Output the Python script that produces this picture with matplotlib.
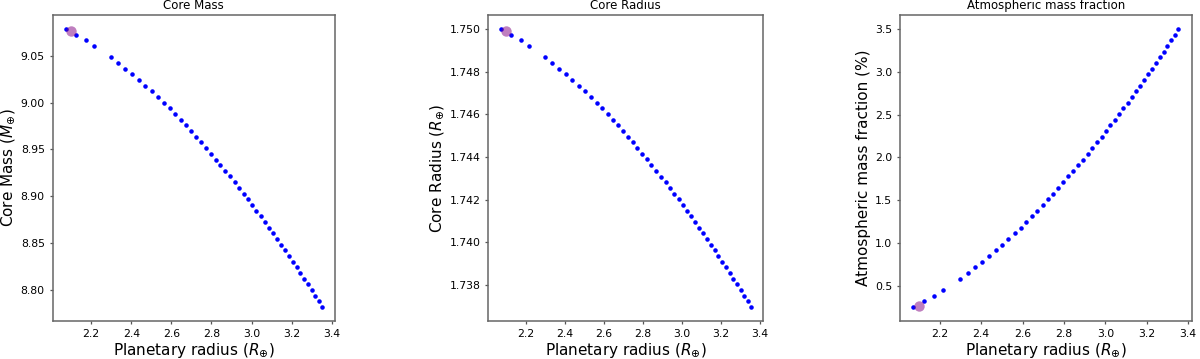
import matplotlib
matplotlib.use("Agg")
import matplotlib.pyplot as plt

# Planetary radius (R_earth) for each model point
radius = [2.072, 2.126, 2.173, 2.216, 2.298, 2.336, 2.371, 2.405, 2.438, 2.470,
          2.502, 2.532, 2.562, 2.591, 2.619, 2.646, 2.671, 2.697, 2.722, 2.747,
          2.771, 2.796, 2.820, 2.843, 2.867, 2.892, 2.916, 2.937, 2.960, 2.982,
          3.003, 3.024, 3.046, 3.065, 3.086, 3.107, 3.128, 3.147, 3.166, 3.186,
          3.205, 3.224, 3.243, 3.262, 3.281, 3.300, 3.318, 3.335, 3.352]

core_mass = [9.0786, 9.0725, 9.0665, 9.0604, 9.0483, 9.0423, 9.0362, 9.0302, 9.0241, 9.0181,
             9.0120, 9.0060, 8.9999, 8.9938, 8.9878, 8.9817, 8.9757, 8.9696, 8.9636, 8.9575,
             8.9514, 8.9454, 8.9393, 8.9333, 8.9272, 8.9212, 8.9151, 8.9091, 8.9030, 8.8970,
             8.8909, 8.8848, 8.8788, 8.8727, 8.8667, 8.8606, 8.8546, 8.8485, 8.8425, 8.8364,
             8.8303, 8.8243, 8.8182, 8.8122, 8.8061, 8.8001, 8.7940, 8.7880, 8.7819]

core_radius = [1.75000, 1.74973, 1.74947, 1.74920, 1.74867, 1.74840, 1.74814, 1.74787, 1.74761, 1.74734,
               1.74707, 1.74681, 1.74654, 1.74627, 1.74601, 1.74574, 1.74548, 1.74521, 1.74494, 1.74468,
               1.74441, 1.74415, 1.74388, 1.74361, 1.74335, 1.74308, 1.74282, 1.74255, 1.74228, 1.74202,
               1.74175, 1.74148, 1.74122, 1.74095, 1.74069, 1.74042, 1.74015, 1.73989, 1.73962, 1.73936,
               1.73909, 1.73882, 1.73856, 1.73829, 1.73803, 1.73776, 1.73749, 1.73723, 1.73696]

atm_fraction = [0.250, 0.316, 0.383, 0.449, 0.582, 0.648, 0.714, 0.781, 0.847, 0.913,
                0.980, 1.046, 1.112, 1.179, 1.245, 1.311, 1.378, 1.444, 1.510, 1.577,
                1.643, 1.709, 1.776, 1.842, 1.908, 1.974, 2.041, 2.107, 2.173, 2.240,
                2.306, 2.372, 2.439, 2.505, 2.571, 2.638, 2.704, 2.770, 2.837, 2.903,
                2.969, 3.036, 3.102, 3.168, 3.235, 3.301, 3.367, 3.434, 3.500]

# Highlighted (observed) planet
obs_radius = 2.10
obs_core_mass = 9.076
obs_core_radius = 1.74989
obs_atm_fraction = 0.266

titles = ["Core Mass", "Core Radius", "Atmospheric mass fraction"]
ylabels = [r"Core Mass ($M_{\oplus}$)", r"Core Radius ($R_{\oplus}$)",
           "Atmospheric mass fraction (%)"]
xlabel = r"Planetary radius ($R_{\oplus}$)"

W, H = 1200, 359
fig = plt.figure(figsize=(W / 100, H / 100), dpi=100)

# axes boxes in pixels: left, right, top, bottom
boxes = [(52.7, 335.0, 15, 321), (488.3, 763.4, 15, 321), (900.0, 1191.5, 15, 321)]
series = [core_mass, core_radius, atm_fraction]
obs = [obs_core_mass, obs_core_radius, obs_atm_fraction]
yticks = [[8.80, 8.85, 8.90, 8.95, 9.00, 9.05],
          [1.738, 1.740, 1.742, 1.744, 1.746, 1.748, 1.750],
          [0.5, 1.0, 1.5, 2.0, 2.5, 3.0, 3.5]]
yfmt = ["{:.2f}", "{:.3f}", "{:.1f}"]

for (l, r, t, b), ys, oy, title, yl, yt, fmt in zip(boxes, series, obs, titles, ylabels, yticks, yfmt):
    ax = fig.add_axes([l / W, 1 - b / H, (r - l) / W, (b - t) / H])
    ax.plot(radius, ys, linestyle="none", marker=".", color="blue", markersize=4.5)
    ax.plot([obs_radius], [oy], linestyle="none", marker="o", color="purple",
            alpha=0.5, markersize=7.5, markeredgewidth=0, zorder=5)
    ax.set_title(title, fontsize=8.5, pad=4)
    ax.set_xlabel(xlabel, fontsize=11, labelpad=1.5)
    ax.set_ylabel(yl, fontsize=11, labelpad=2.5)
    ax.set_xticks([2.2, 2.4, 2.6, 2.8, 3.0, 3.2, 3.4])
    ax.set_yticks(yt)
    ax.set_yticklabels([fmt.format(v) for v in yt])
    ax.tick_params(labelsize=7.8, length=2.5, width=0.9, pad=3.2, color="#555555")
    for sp in ax.spines.values():
        sp.set_color("#666666")
        sp.set_linewidth(1.1)

fig.savefig("out.png", dpi=100)
